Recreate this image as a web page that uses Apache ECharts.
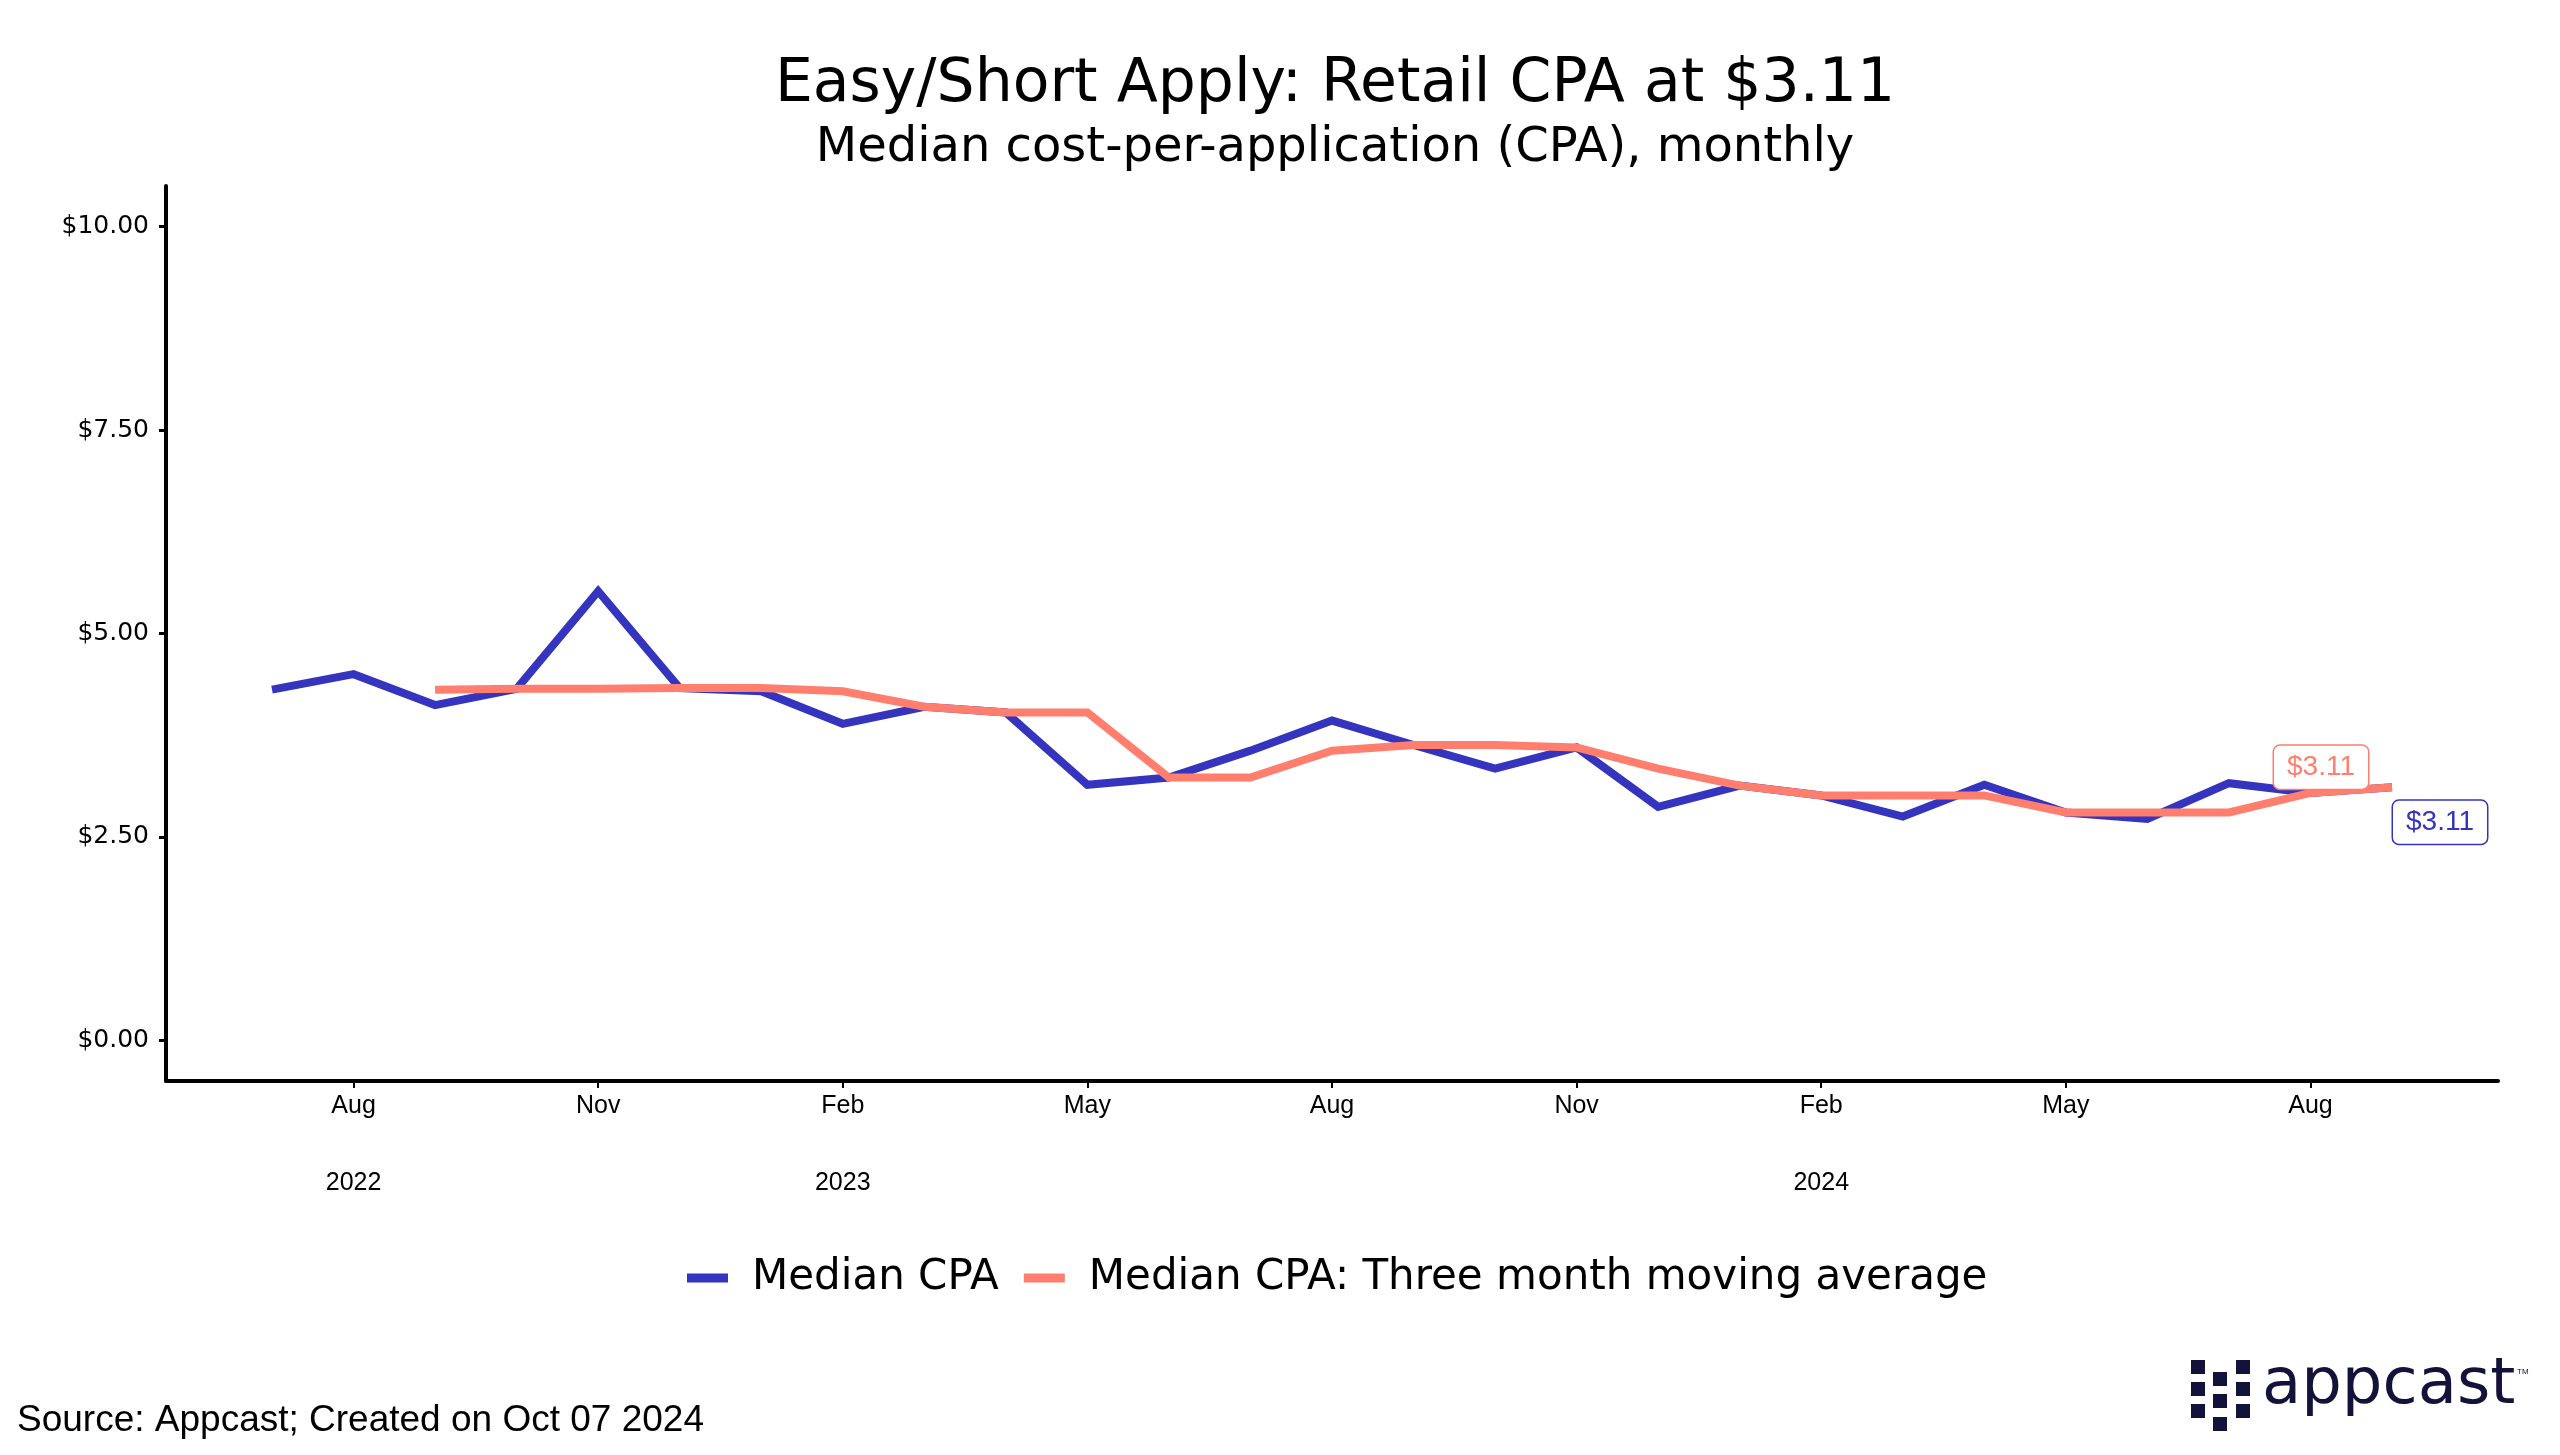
<!DOCTYPE html>
<html><head><meta charset="utf-8">
<script src="https://cdn.jsdelivr.net/npm/echarts@6/dist/echarts.min.js"></script>
<style>html,body{margin:0;padding:0;background:#fff}#c{width:2560px;height:1455px}</style>
</head><body><div id="c"></div>
<script>
// ---- data ----
const months = ['2022-07','2022-08','2022-09','2022-10','2022-11','2022-12',
  '2023-01','2023-02','2023-03','2023-04','2023-05','2023-06','2023-07','2023-08','2023-09','2023-10','2023-11','2023-12',
  '2024-01','2024-02','2024-03','2024-04','2024-05','2024-06','2024-07','2024-08','2024-09'];
const medianCPA = [4.31,4.50,4.12,4.32,5.52,4.33,
  4.29,3.89,4.10,4.03,3.14,3.23,3.56,3.93,3.63,3.34,3.60,2.87,
  3.13,3.01,2.75,3.14,2.80,2.72,3.16,3.04,3.11];
const movingAvg = [null,null,4.31,4.32,4.32,4.33,
  4.33,4.29,4.10,4.03,4.03,3.23,3.23,3.56,3.63,3.63,3.60,3.34,
  3.13,3.01,3.01,3.01,2.80,2.80,2.80,3.04,3.11];
const xTickMonths = ['2022-08','2022-11','2023-02','2023-05','2023-08','2023-11','2024-02','2024-05','2024-08'];
const monthNames = ['Jan','Feb','Mar','Apr','May','Jun','Jul','Aug','Sep','Oct','Nov','Dec'];
const yTicks = [0,2.5,5,7.5,10];
const seriesNames = ['Median CPA','Median CPA: Three month moving average'];
const titleText = 'Easy/Short Apply: Retail CPA at $3.11';
const subtitleText = 'Median cost-per-application (CPA), monthly';
const sourceText = 'Source: Appcast; Created on Oct 07 2024';

const BLUE = '#3434BE', SALMON = '#FF7E6E';
const xTickPos = xTickMonths.map(m => months.indexOf(m));
const lastIdx = months.length - 1;

function xLabel(v) {
  const i = Math.round(v);
  const m = months[i];
  if (!m) return '';
  const [y, mo] = m.split('-');
  const k = xTickPos.indexOf(i);
  const prev = k > 0 ? months[xTickPos[k-1]].split('-')[0] : null;
  const name = monthNames[parseInt(mo,10)-1];
  if (k === 0 || prev !== y) return '{m|' + name + '}\n{y|' + y + '}';
  return '{m|' + name + '}';
}

const chart = echarts.init(document.getElementById('c'), null, {renderer:'canvas'});
const logoSquares = [
  [2191,1360],[2191,1382],[2191,1404],
  [2213,1372],[2213,1394],[2213,1417],
  [2236,1360],[2236,1382],[2236,1404]
];
chart.setOption({
  animation: false,
  backgroundColor: '#fff',
  grid: {left:166, top:186, width:2332, height:895, containLabel:false},
  xAxis: {
    type:'value', min:-1.3, max: lastIdx + 1.3,
    axisLine:{show:true, onZero:false, lineStyle:{color:'#000', width:4}},
    axisTick:{show:true, customValues: xTickPos, length:7, lineStyle:{color:'#000', width:2}},
    splitLine:{show:false},
    axisLabel:{show:true, customValues: xTickPos, margin:2, formatter: xLabel,
      rich:{
        m:{fontFamily:'Liberation Sans', fontSize:25, color:'#000', lineHeight:46, align:'center'},
        y:{fontFamily:'Liberation Sans', fontSize:25, color:'#000', lineHeight:108, align:'center'}
      }}
  },
  yAxis: {
    type:'value', min:-0.5, max:10.5,
    axisLine:{show:true, onZero:false, lineStyle:{color:'#000', width:4}},
    axisTick:{show:true, customValues: yTicks, length:7, lineStyle:{color:'#000', width:3}},
    splitLine:{show:false},
    axisLabel:{show:true, customValues: yTicks, margin:17, fontFamily:'DejaVu Sans', fontSize:25, color:'#000',
      formatter: v => '$' + Number(v).toFixed(2)}
  },
  legend: {
    left: 682, top: 1248, orient:'horizontal',
    icon:'rect', itemWidth:41, itemHeight:9, itemGap:25,
    textStyle:{fontFamily:'DejaVu Sans', fontSize:42, color:'#000', lineHeight:50, padding:[0,0,0,19]},
    data: seriesNames
  },
  graphic: [
    {type:'text', x:1335, y:85, style:{text:titleText, fontFamily:'DejaVu Sans', fontSize:60, fill:'#000', align:'center', verticalAlign:'middle'}},
    {type:'text', x:1335, y:149, style:{text:subtitleText, fontFamily:'DejaVu Sans', fontSize:48, fill:'#000', align:'center', verticalAlign:'middle'}},
    {type:'text', x:17, y:1421, style:{text:sourceText, fontFamily:'Liberation Sans', fontSize:37, fill:'#000', align:'left', verticalAlign:'middle'}},
    ...logoSquares.map(p => ({type:'rect', shape:{x:p[0], y:p[1], width:14, height:14}, style:{fill:'#13123a'}})),
    {type:'text', x:2262, y:1386, style:{text:'appcast', fontFamily:'DejaVu Sans', fontSize:64, fill:'#13123a', align:'left', verticalAlign:'middle'}},
    {type:'text', x:2517, y:1372, style:{text:'TM', fontFamily:'Liberation Sans', fontSize:8, fill:'#13123a', align:'left', verticalAlign:'middle'}}
  ],
  series: [
    {
      name: seriesNames[0], type:'line', color: BLUE,
      data: medianCPA.map((v,i) => [i, v]),
      symbol:'none', lineStyle:{width:8, color:BLUE, join:'miter', cap:'butt'},
      markPoint: {
        symbol:'circle', symbolSize:1, itemStyle:{color:'rgba(0,0,0,0)'},
        data:[{coord:[lastIdx, medianCPA[lastIdx]], value: medianCPA[lastIdx]}],
        label:{show:true, position:'inside', offset:[48,35], formatter: p => '$' + p.value.toFixed(2),
          fontFamily:'Liberation Sans', fontSize:28, color:BLUE, backgroundColor:'#fff',
          borderColor:BLUE, borderWidth:1.5, borderRadius:6, padding:[7,13,7,13], lineHeight:29}
      }
    },
    {
      name: seriesNames[1], type:'line', color: SALMON,
      data: movingAvg.map((v,i) => [i, v]),
      symbol:'none', connectNulls:false, lineStyle:{width:8, color:SALMON, join:'miter', cap:'butt'},
      markPoint: {
        symbol:'circle', symbolSize:1, itemStyle:{color:'rgba(0,0,0,0)'},
        data:[{coord:[lastIdx, movingAvg[lastIdx]], value: movingAvg[lastIdx]}],
        label:{show:true, position:'inside', offset:[-71,-20], formatter: p => '$' + p.value.toFixed(2),
          fontFamily:'Liberation Sans', fontSize:28, color:SALMON, backgroundColor:'#fff',
          borderColor:SALMON, borderWidth:1.5, borderRadius:6, padding:[7,13,7,13], lineHeight:29}
      }
    }
  ]
});
</script></body></html>
